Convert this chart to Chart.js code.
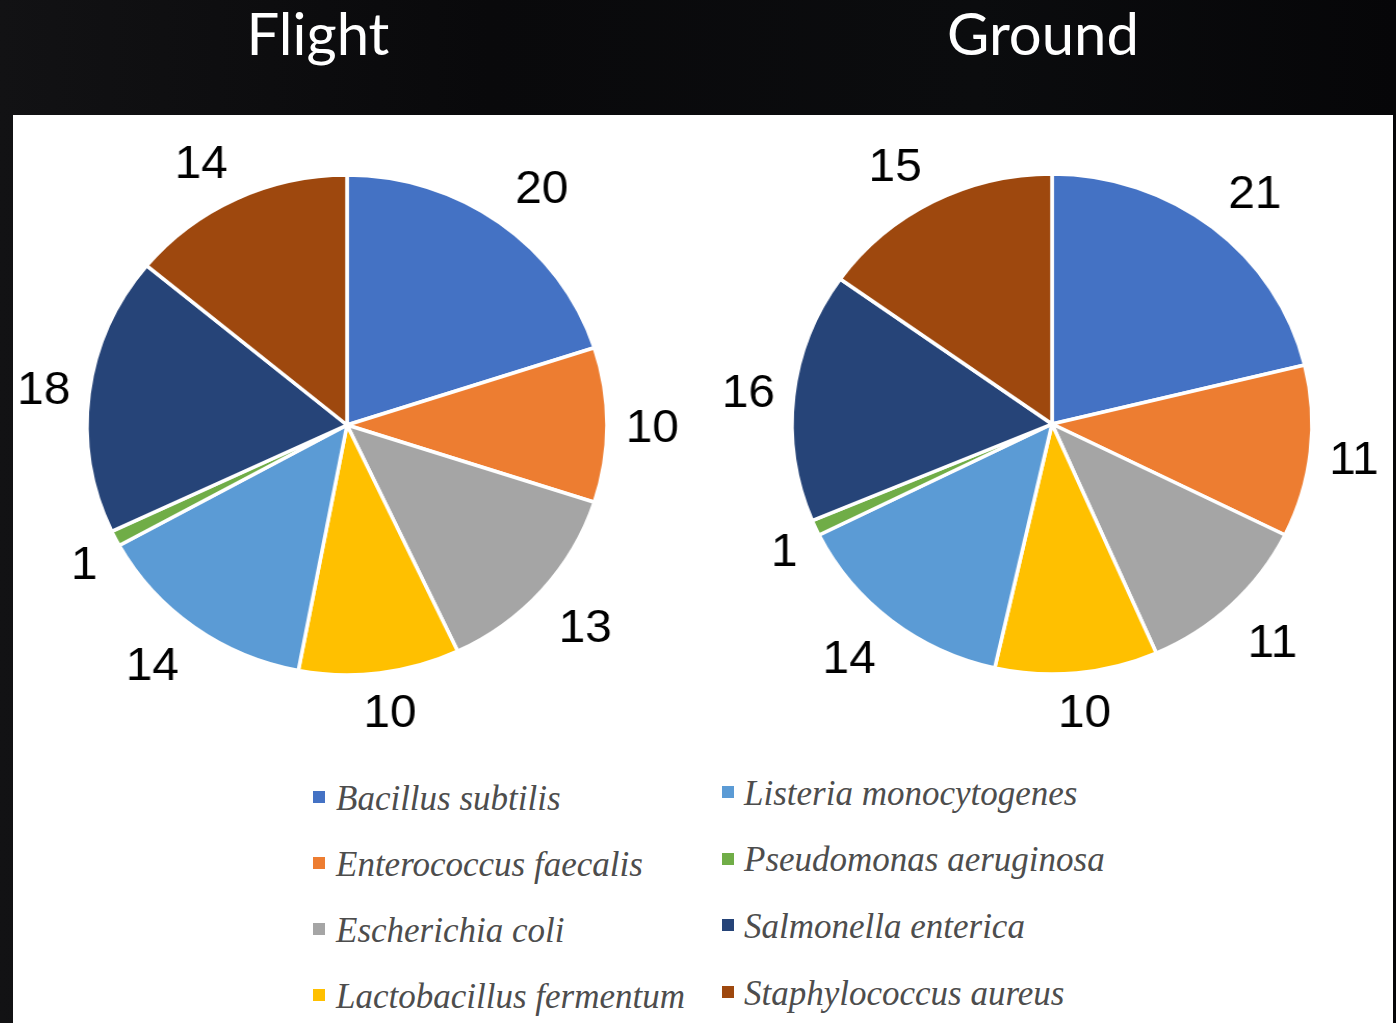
<!DOCTYPE html>
<html>
<head>
<meta charset="utf-8">
<title>Flight vs Ground isolates</title>
<script src="https://cdn.jsdelivr.net/npm/chart.js@4.4.0/dist/chart.umd.min.js"></script>
<style>
  html, body { margin: 0; padding: 0; }
  body {
    width: 1396px; height: 1023px; overflow: hidden; position: relative;
    background: linear-gradient(90deg, #121214 0%, #09090b 35%, #0b0c0e 70%, #060608 100%);
  }
  .title {
    position: absolute; top: 4px; width: 400px; text-align: center;
    color: #ffffff; font-family: Lato, "Open Sans", sans-serif;
    font-size: 58px; line-height: 58px;
  }
  .panel {
    position: absolute; left: 13px; top: 115px; width: 1380px; height: 908px;
    background: #ffffff;
  }
  .pie-wrap {
    position: absolute; width: 660px; height: 640px;
    transform: scaleX(1.04); transform-origin: 50% 50%;
  }
  .pie-wrap canvas { display: block; }
  .swatch { position: absolute; width: 12px; height: 12px; }
  .legend-text {
    position: absolute; white-space: nowrap;
    font-family: "Liberation Serif", "Times New Roman", serif; font-style: italic;
    font-size: 35px; line-height: 35px; color: #4d4d4d;
  }
</style>
</head>
<body>
<div class="title" style="left:118px">Flight</div>
<div class="title" style="left:843px">Ground</div>
<div class="panel"></div>

<div class="pie-wrap" style="left:16.5px; top:105px"><canvas id="flight-pie" width="660" height="640"></canvas></div>
<div class="pie-wrap" style="left:722px; top:104px"><canvas id="ground-pie" width="660" height="640"></canvas></div>

<div id="legend"></div>

<script>
// ============================================
// Isolate counts per species
// ============================================

const speciesNames = [
  'Bacillus subtilis',
  'Enterococcus faecalis',
  'Escherichia coli',
  'Lactobacillus fermentum',
  'Listeria monocytogenes',
  'Pseudomonas aeruginosa',
  'Salmonella enterica',
  'Staphylococcus aureus'
];

const sliceColors = ['#4472C4', '#ED7D31', '#A5A5A5', '#FFC000', '#5B9BD5', '#70AD47', '#264478', '#9E480E'];

const flightCounts = [20, 10, 13, 10, 14, 1, 18, 14];
const groundCounts = [21, 11, 11, 10, 14, 1, 16, 15];

// ============================================
// Value labels outside each slice
// ============================================

const clampUnit = v => Math.max(-1, Math.min(1, v));

const outsideLabels = {
  id: 'outsideLabels',
  afterDatasetsDraw(chart) {
    const ctx = chart.ctx;
    const meta = chart.getDatasetMeta(0);
    const values = chart.data.datasets[0].data;
    ctx.save();
    ctx.font = '46px "Liberation Sans", Arial, sans-serif';
    ctx.fillStyle = '#000000';
    ctx.textAlign = 'center';
    ctx.textBaseline = 'alphabetic';
    meta.data.forEach((arc, i) => {
      const { x, y, startAngle, endAngle, outerRadius } =
        arc.getProps(['x', 'y', 'startAngle', 'endAngle', 'outerRadius'], true);
      const mid = (startAngle + endAngle) / 2;
      const dx = Math.cos(mid);
      const dy = Math.sin(mid);
      const text = String(values[i]);
      const hw = ctx.measureText(text).width / 2 + 10;
      const hh = 30;
      const lx = x + dx * (outerRadius + 8) + clampUnit(dx * 2) * hw;
      const ly = y + dy * (outerRadius + 8) + clampUnit(dy * 1.5) * hh;
      // shift so the digits are centred on (lx, ly)
      ctx.fillText(text, lx, ly + 16.5);
    });
    ctx.restore();
  }
};

function makePie(canvasId, counts) {
  return new Chart(document.getElementById(canvasId), {
    type: 'pie',
    data: {
      labels: speciesNames,
      datasets: [{
        data: counts,
        backgroundColor: sliceColors,
        borderColor: '#ffffff',
        borderWidth: 3.5,
        radius: 250
      }]
    },
    options: {
      responsive: false,
      animation: false,
      events: [],
      plugins: { legend: { display: false }, tooltip: { enabled: false } }
    },
    plugins: [outsideLabels]
  });
}

makePie('flight-pie', flightCounts);
makePie('ground-pie', groundCounts);

// ============================================
// Shared legend, two columns of four
// ============================================

function buildLegend() {
  const box = document.getElementById('legend');
  speciesNames.forEach((name, i) => {
    const col = i < 4 ? 0 : 1;
    const row = i % 4;
    const baseline = col === 0 ? 810 + row * 66 : 805 + row * 66.7;
    const swatchX = col === 0 ? 313 : 722;
    const textX = col === 0 ? 336 : 744;

    const sw = document.createElement('div');
    sw.className = 'swatch';
    sw.style.left = swatchX + 'px';
    sw.style.top = (baseline - 19) + 'px';
    sw.style.background = sliceColors[i];
    box.appendChild(sw);

    const label = document.createElement('div');
    label.className = 'legend-text';
    label.style.left = textX + 'px';
    label.style.top = (baseline - 29.3) + 'px';
    label.textContent = name;
    box.appendChild(label);
  });
}

buildLegend();
</script>
</body>
</html>
